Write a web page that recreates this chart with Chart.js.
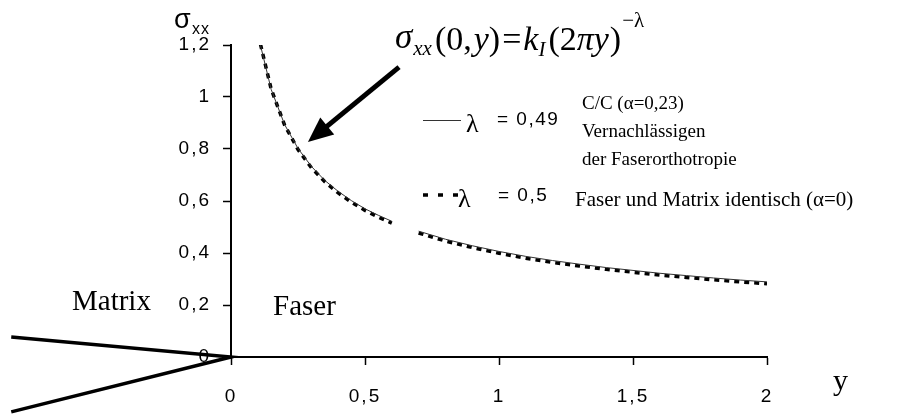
<!DOCTYPE html>
<html>
<head>
<meta charset="utf-8">
<script src="https://cdn.jsdelivr.net/npm/chart.js@4.4.1/dist/chart.umd.min.js"></script>
<style>
  html, body { margin: 0; padding: 0; background: #fff; }
  canvas { display: block; }
</style>
</head>
<body>
<canvas id="chart" width="899" height="417"></canvas>
<script>
// Abstand von der Rissspitze entlang der Faser
const yPos = [0.11, 0.15, 0.2, 0.25, 0.3, 0.35, 0.4, 0.45, 0.5, 0.55, 0.6, 0.65,
  0.7, 0.8, 0.9, 1.0, 1.1, 1.2, 1.3, 1.4, 1.5, 1.6, 1.7, 1.8, 1.9, 2.0];
// sigma_xx für C/C (lambda = 0,49) und identische Materialien (lambda = 0,5)
const sigmaLam049 = [1.199, 1.029, 0.894, 0.802, 0.733, 0.679, 0.637, 0.601, 0.570, 0.545, 0.522, null,
  0.484, 0.453, 0.428, 0.406, 0.387, 0.371, 0.357, 0.344, 0.333, 0.322, 0.313, 0.304, 0.296, 0.289];
const sigmaLam05 = [1.203, 1.030, 0.892, 0.798, 0.728, 0.674, 0.631, 0.595, 0.564, 0.538, 0.515, null,
  0.477, 0.446, 0.421, 0.399, 0.380, 0.364, 0.350, 0.337, 0.326, 0.315, 0.306, 0.297, 0.289, 0.282];

// Riss (Keil) links der Faser, Spitze im Ursprung
const crackY = [-0.82, 0, -0.82];
const crackSigma = [0.077, 0, -0.211];

const xTickValues = [0, 0.5, 1, 1.5, 2];
const yTickValues = [0, 0.2, 0.4, 0.6, 0.8, 1, 1.2];

// Pfeil von der Formel zur Kurve (Datenkoordinaten)
const arrowFrom = {x: 0.627, y: 1.115};
const arrowTo = {x: 0.287, y: 0.827};

const sans = '"Liberation Sans", Arial, sans-serif';
const serif = '"Liberation Serif", "Times New Roman", serif';

const fmt = v => String(v).replace('.', ',');
const points = (xs, ys) => xs.map((x, i) => ({x: x, y: ys[i]}));

function drawRun(ctx, x, parts) {
    parts.forEach(p => {
        ctx.font = p.font;
        ctx.fillText(p.text, x, p.y);
        x += ctx.measureText(p.text).width + (p.gap || 0);
    });
}

// gesperrte Achsenbeschriftung wie im Excel-Original
const spacedTicks = {
    id: 'spacedTicks',
    beforeDraw(chart) {
        chart.ctx.letterSpacing = '2px';
    }
};

const annotations = {
    id: 'annotations',
    afterDraw(chart) {
        const { ctx, scales: { x, y } } = chart;
        ctx.save();
        ctx.letterSpacing = '0px';
        ctx.fillStyle = '#000';
        ctx.strokeStyle = '#000';
        ctx.textAlign = 'left';
        ctx.textBaseline = 'alphabetic';

        // Achsentitel
        ctx.font = `27px ${sans}`;
        ctx.fillText('σ', 174, 28);
        ctx.font = `16px ${sans}`;
        ctx.letterSpacing = '1px';
        ctx.fillText('xx', 192, 34);
        ctx.letterSpacing = '0px';
        ctx.font = `30px ${serif}`;
        ctx.fillText('y', 833, 390);

        // Formel
        drawRun(ctx, 395, [
            { font: `italic 35px ${serif}`, text: 'σ', y: 48, gap: 1 },
            { font: `italic 21px ${serif}`, text: 'xx', y: 55, gap: 3 },
            { font: `34px ${serif}`, text: '(0,', y: 50, gap: 2 },
            { font: `italic 34px ${serif}`, text: 'y', y: 50 },
            { font: `34px ${serif}`, text: ')', y: 50, gap: 2 },
            { font: `34px ${serif}`, text: '=', y: 50, gap: 2 },
            { font: `italic 34px ${serif}`, text: 'k', y: 50 },
            { font: `italic 21px ${serif}`, text: 'I', y: 56, gap: 3 },
            { font: `34px ${serif}`, text: '(2', y: 50 },
            { font: `italic 34px ${serif}`, text: 'πy', y: 50, gap: 1 },
            { font: `34px ${serif}`, text: ')', y: 50, gap: 1 },
            { font: `21px ${serif}`, text: '−λ', y: 27 }
        ]);

        // Pfeil
        const x0 = x.getPixelForValue(arrowFrom.x), y0 = y.getPixelForValue(arrowFrom.y);
        const x1 = x.getPixelForValue(arrowTo.x), y1 = y.getPixelForValue(arrowTo.y);
        const len = Math.hypot(x1 - x0, y1 - y0);
        const ux = (x1 - x0) / len, uy = (y1 - y0) / len;
        const headLen = 25, headW = 11;
        const bx = x1 - ux * headLen, by = y1 - uy * headLen;
        ctx.lineWidth = 5;
        ctx.beginPath();
        ctx.moveTo(x0, y0);
        ctx.lineTo(bx + ux * 2, by + uy * 2);
        ctx.stroke();
        ctx.beginPath();
        ctx.moveTo(x1, y1);
        ctx.lineTo(bx - uy * headW, by + ux * headW);
        ctx.lineTo(bx + uy * headW, by - ux * headW);
        ctx.closePath();
        ctx.fill();

        // Legende
        ctx.lineWidth = 1;
        ctx.strokeStyle = '#333';
        ctx.beginPath();
        ctx.moveTo(423, 120.5);
        ctx.lineTo(461, 120.5);
        ctx.stroke();
        ctx.font = `26px ${serif}`;
        ctx.fillText('λ', 466, 132);
        ctx.font = `19px ${sans}`;
        ctx.letterSpacing = '1.5px';
        ctx.fillText('= 0,49', 497, 125);
        ctx.letterSpacing = '0px';

        ctx.strokeStyle = '#000';
        ctx.lineWidth = 3.5;
        ctx.setLineDash([5, 10]);
        ctx.beginPath();
        ctx.moveTo(423, 195);
        ctx.lineTo(460, 195);
        ctx.stroke();
        ctx.setLineDash([]);
        ctx.font = `26px ${serif}`;
        ctx.fillText('λ', 458, 207);
        ctx.font = `19px ${sans}`;
        ctx.letterSpacing = '1.5px';
        ctx.fillText('= 0,5', 498, 201);
        ctx.letterSpacing = '0px';

        ctx.font = `19px ${serif}`;
        ctx.fillText('C/C (α=0,23)', 582, 109);
        ctx.fillText('Vernachlässigen', 582, 137);
        ctx.fillText('der Faserorthotropie', 582, 165);
        ctx.font = `21px ${serif}`;
        ctx.fillText('Faser und Matrix identisch (α=0)', 575, 206);

        // Bereiche
        ctx.font = `29px ${serif}`;
        ctx.fillText('Matrix', 72, 310);
        ctx.fillText('Faser', 273, 315);
        ctx.restore();
    }
};

const axisGrid = {
    display: true,
    drawOnChartArea: false,
    drawTicks: true,
    tickLength: 8,
    tickColor: '#000',
    tickWidth: 1.5
};

new Chart(document.getElementById('chart'), {
    type: 'line',
    data: {
        datasets: [
            {
                label: 'λ = 0,49',
                data: points(yPos, sigmaLam049),
                borderColor: '#333',
                borderWidth: 1,
                pointRadius: 0,
                spanGaps: false,
                order: 0
            },
            {
                label: 'λ = 0,5',
                data: points(yPos, sigmaLam05),
                borderColor: '#000',
                borderWidth: 3.5,
                borderDash: [5, 5],
                pointRadius: 0,
                spanGaps: false,
                order: 1
            },
            {
                label: 'Riss',
                data: points(crackY, crackSigma),
                borderColor: '#000',
                borderWidth: 3.5,
                pointRadius: 0,
                clip: false,
                order: 2
            }
        ]
    },
    options: {
        responsive: false,
        animation: false,
        layout: { padding: { left: 171, right: 132, top: 45, bottom: 0 } },
        plugins: {
            legend: { display: false },
            tooltip: { enabled: false }
        },
        scales: {
            x: {
                type: 'linear',
                position: 'bottom',
                min: 0,
                max: 2,
                afterFit: (scale) => { scale.height = 60; },
                afterBuildTicks: (scale) => { scale.ticks = xTickValues.map(v => ({ value: v })); },
                border: { display: true, color: '#000', width: 2 },
                grid: axisGrid,
                ticks: {
                    color: '#000',
                    font: { family: sans, size: 19 },
                    padding: 20,
                    maxRotation: 0,
                    callback: (v) => fmt(v)
                }
            },
            y: {
                type: 'linear',
                position: 'left',
                min: 0,
                max: 1.2,
                afterFit: (scale) => { scale.width = 60; },
                afterBuildTicks: (scale) => { scale.ticks = yTickValues.map(v => ({ value: v })); },
                border: { display: true, color: '#000', width: 2 },
                grid: axisGrid,
                ticks: {
                    color: '#000',
                    font: { family: sans, size: 19 },
                    padding: 12,
                    callback: (v) => fmt(v)
                }
            }
        }
    },
    plugins: [spacedTicks, annotations]
});
</script>
</body>
</html>
